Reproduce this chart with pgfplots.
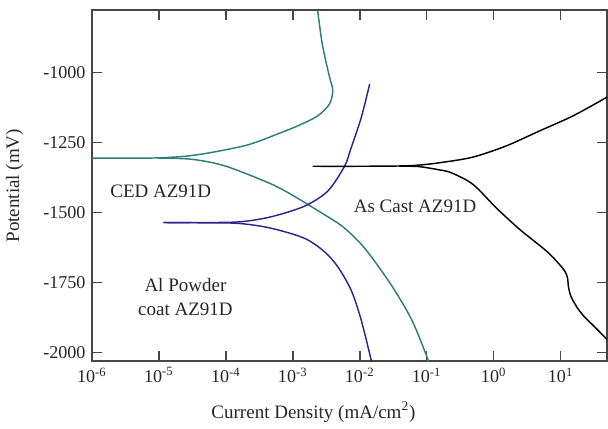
\documentclass[border=0pt]{standalone}
\usepackage{fontspec}
\setmainfont{Liberation Serif}
\usepackage{pgfplots}
\pgfplotsset{compat=1.18}
\definecolor{cedteal}{RGB}{45,125,120}
\definecolor{alblue}{RGB}{50,35,140}
\definecolor{axgray}{RGB}{70,70,70}
\begin{document}
\begin{tikzpicture}
\begin{axis}[
  scale only axis, width=284.6pt, height=194pt,
  xmode=log, xmin=1e-6, xmax=49.5,
  ymin=-2032, ymax=-777,
  xtick={1e-6,1e-5,1e-4,1e-3,1e-2,1e-1,1,10},
  xticklabels={10\textsuperscript{-6},10\textsuperscript{-5},10\textsuperscript{-4},10\textsuperscript{-3},10\textsuperscript{-2},10\textsuperscript{-1},10\textsuperscript{0},10\textsuperscript{1}},
  ytick={-2000,-1750,-1500,-1250,-1000},
  yticklabels={-2000,-1750,-1500,-1250,-1000},
  minor tick num=0, xminorticks=false,
  tick align=inside, major tick length=5.6pt,
  axis line style={axgray, line width=1pt},
  every tick/.style={axgray, line width=0.9pt},
  tick label style={font=\fontsize{10}{12}\selectfont, text=black!85},
  label style={font=\fontsize{10.5}{12}\selectfont, text=black!85},
  xlabel={Current Density (mA/cm\textsuperscript{2})},
  ylabel={Potential (mV)},
  xlabel style={at={(axis description cs:0.43,-0.145)}, anchor=center},
  ylabel style={at={(axis description cs:-0.15,0.5)}, anchor=center},
  every axis plot/.append style={line width=0.8pt, smooth, tension=0.5},
  clip=true,
]
% CED AZ91D anodic
\addplot[cedteal] coordinates {
(1e-6,-1306) (3.162e-6,-1306) (1e-5,-1305) (2.512e-5,-1299) (5.70e-5,-1287)
(1.81e-4,-1263) (3.148e-4,-1245) (5.87e-4,-1220) (1.175e-3,-1191)
(2.350e-3,-1155) (3.524e-3,-1113)
(3.954e-3,-1065) (3.56e-3,-1018) (3.10e-3,-957) (2.70e-3,-885) (2.350e-3,-777) (2.291e-3,-760)
};
% CED AZ91D cathodic
\addplot[cedteal] coordinates {
(1e-5,-1306) (3.09e-5,-1310) (9.79e-5,-1334) (4.94e-4,-1400)
(1.175e-3,-1449) (1.862e-3,-1478) (3.690e-3,-1522) (5.93e-3,-1556) (1.197e-2,-1629)
(2.951e-2,-1759) (5.902e-2,-1881) (9.908e-2,-2011) (0.1072,-2040)
};
% Al powder anodic
\addplot[alblue] coordinates {
(1.169e-5,-1536) (3.162e-5,-1536) (1.52e-4,-1534) (4.66e-4,-1516)
(1.483e-3,-1478) (3.32e-3,-1424)
(5.93e-3,-1335) (7.45e-3,-1269) (1.054e-2,-1161) (1.409e-2,-1041)
};
% Al powder cathodic
\addplot[alblue] coordinates {
(1.169e-5,-1536) (3.98e-5,-1537) (1.52e-4,-1539) (4.66e-4,-1556)
(1.483e-3,-1592) (2.965e-3,-1640) (4.70e-3,-1694) (7.45e-3,-1778) (1.042e-2,-1881)
(1.476e-2,-2025) (1.514e-2,-2040)
};
% As cast anodic
\addplot[black] coordinates {
(1.977e-3,-1335) (9.40e-3,-1335) (3.89e-2,-1334) (0.0752,-1331) (0.150,-1323)
(0.476,-1303) (1.517,-1263) (4.82,-1209) (15.28,-1155)
(48.4,-1089) (52.5,-1080)
};
% As cast cathodic
\addplot[black] coordinates {
(3.89e-2,-1335) (7.52e-2,-1336) (0.156,-1348) (0.238,-1359) (0.493,-1400)
(1.109,-1485) (2.489,-1562) (6.28,-1640) (10.79,-1700) (12.59,-1730)
(13.12,-1766) (14.22,-1799) (17.50,-1838) (21.73,-1868) (32.6,-1910)
(48.4,-1952) (52.5,-1965)
};
\node[anchor=west, font=\fontsize{10.5}{12}\selectfont, text=black!85] at (rel axis cs:0.0234,0.484) {CED AZ91D};
\node[anchor=west, font=\fontsize{10.5}{12}\selectfont, text=black!85] at (rel axis cs:0.496,0.441) {As Cast AZ91D};
\node[align=center, font=\fontsize{10.5}{13.3}\selectfont, text=black!85] at (rel axis cs:0.1815,0.183) {Al Powder\\coat AZ91D};
\end{axis}
\path (current axis.north east) ++(0,5.6pt);
\end{tikzpicture}
\end{document}
